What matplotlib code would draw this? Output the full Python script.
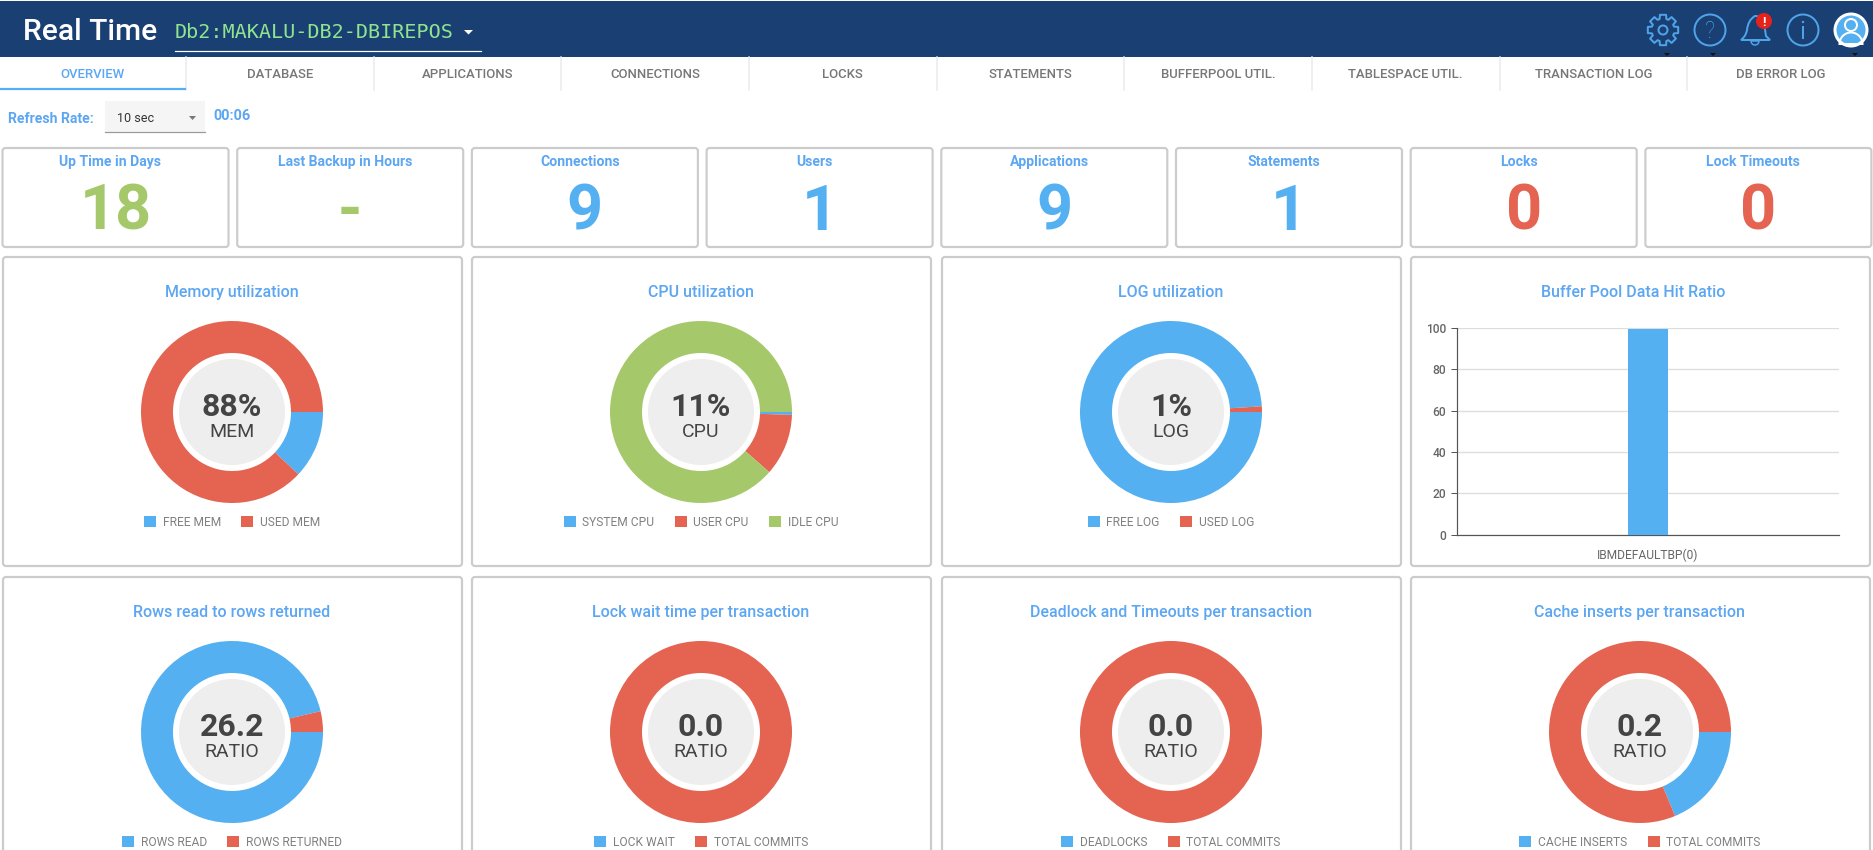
import numpy as np
import matplotlib
matplotlib.use('Agg')
import matplotlib.pyplot as plt
from matplotlib.patches import Circle, FancyBboxPatch, Polygon, Rectangle, Wedge, PathPatch
from matplotlib.path import Path

W, H = 1873, 850
plt.rcParams['font.family'] = ['Roboto', 'DejaVu Sans']

BLUE = "#54B0F0"
RED = "#E46351"
GREEN = "#A5C96A"
TITLE_BLUE = "#5CA6F2"
NAVY = "#193F73"
GREY_TEXT = "#777777"
DARK_TEXT = "#444444"
BORDER = "#CCCCCC"

header_title = "Real Time"
header_db = "Db2:MAKALU-DB2-DBIREPOS"
tabs = ["OVERVIEW", "DATABASE", "APPLICATIONS", "CONNECTIONS", "LOCKS", "STATEMENTS",
        "BUFFERPOOL UTIL.", "TABLESPACE UTIL.", "TRANSACTION LOG", "DB ERROR LOG"]

kpi_titles = ["Up Time in Days", "Last Backup in Hours", "Connections", "Users",
              "Applications", "Statements", "Locks", "Lock Timeouts"]
kpi_values = ["18", "-", "9", "1", "9", "1", "0", "0"]
kpi_colors = [GREEN, GREEN, BLUE, BLUE, BLUE, BLUE, RED, RED]

donut_titles = ["Memory utilization", "CPU utilization", "LOG utilization", None,
                "Rows read to rows returned", "Lock wait time per transaction",
                "Deadlock and Timeouts per transaction", "Cache inserts per transaction"]
memory_values = [12, 88]
cpu_values = [0.5, 11, 88.5]
log_values = [99, 1]
rows_values = [26.2, 1]
lock_wait_values = [0, 1]
deadlock_values = [0, 1]
cache_values = [0.23, 1]

memory_labels = ["FREE MEM", "USED MEM"]
cpu_labels = ["SYSTEM CPU", "USER CPU", "IDLE CPU"]
log_labels = ["FREE LOG", "USED LOG"]
rows_labels = ["ROWS READ", "ROWS RETURNED"]
lock_wait_labels = ["LOCK WAIT", "TOTAL COMMITS"]
deadlock_labels = ["DEADLOCKS", "TOTAL COMMITS"]
cache_labels = ["CACHE INSERTS", "TOTAL COMMITS"]

bp_categories = ["IBMDEFAULTBP(0)"]
bp_values = [99.6]
bp_ticks = [0, 20, 40, 60, 80, 100]


def px(size):
    # css pixels to points at dpi 100
    return size * 0.72


fig = plt.figure(figsize=(W / 100, H / 100), dpi=100, facecolor="white")
bg = fig.add_axes([0, 0, 1, 1])
bg.set_xlim(0, W)
bg.set_ylim(H, 0)
bg.axis("off")


def card(x0, y0, x1, y1):
    bg.add_patch(FancyBboxPatch((x0, y0), x1 - x0, y1 - y0,
                                boxstyle="round,pad=0,rounding_size=3",
                                fc="white", ec=BORDER, lw=px(2.2)))


def sub_axes(x0, y0, x1, y1):
    return fig.add_axes([x0 / W, 1 - y1 / H, (x1 - x0) / W, (y1 - y0) / H])


# header
bg.add_patch(Rectangle((0, 1), W, 56, fc=NAVY, ec="none"))
bg.text(23, 40, header_title, color="white", fontsize=px(30), weight="medium", va="baseline")
bg.text(175, 38, header_db, color="#8FE58F", fontsize=px(20.2), family="DejaVu Sans Mono", va="baseline")
bg.add_patch(Polygon([[464, 30], [473, 30], [468.5, 34.5]], fc="white", ec="none"))
bg.plot([175, 481], [51, 51], color="white", lw=px(1.2))

icon = "#4FA3E8"
ilw = px(2)
# gear
ang = np.linspace(0, 2 * np.pi, 8, endpoint=False)
gear = []
for a in ang:
    for da, r in [(-0.30, 11.5), (-0.20, 15.5), (0.20, 15.5), (0.30, 11.5)]:
        gear.append([1663 + r * np.cos(a + da), 30 + r * np.sin(a + da)])
bg.add_patch(Polygon(gear, closed=True, fc="none", ec=icon, lw=ilw, joinstyle="round"))
bg.add_patch(Circle((1663, 30), 4.5, fc="none", ec=icon, lw=ilw))
# help
bg.add_patch(Circle((1710, 30), 15.5, fc="none", ec=icon, lw=ilw))
bg.text(1710, 38, "?", color=icon, fontsize=px(23), ha="center", va="baseline", weight="light")
# bell
bell = Path([(1741, 40), (1746, 36), (1747, 30), (1748, 20), (1755, 16), (1762, 16), (1764, 22), (1765, 30),
             (1766, 36), (1770, 40), (1741, 40)],
            [Path.MOVETO, Path.CURVE3, Path.CURVE3, Path.CURVE3, Path.CURVE3, Path.CURVE3, Path.CURVE3,
             Path.CURVE3, Path.CURVE3, Path.LINETO, Path.CLOSEPOLY])
bg.add_patch(PathPatch(bell, fc="none", ec=icon, lw=ilw))
bg.add_patch(Wedge((1755, 41), 4, 0, 180, fc="none", ec=icon, lw=px(1.5)))
bg.add_patch(Circle((1764, 21), 8, fc="#E5231B", ec="none"))
bg.text(1764, 26, "!", color="white", fontsize=px(13), weight="bold", ha="center", va="baseline")
# info
bg.add_patch(Circle((1803, 30), 15.5, fc="none", ec=icon, lw=ilw))
bg.plot([1803, 1803], [27, 38], color=icon, lw=ilw)
bg.add_patch(Circle((1803, 22), 1.2, fc=icon, ec="none"))
# user
bg.add_patch(Circle((1851, 30), 16, fc=BLUE, ec="white", lw=px(3)))
bg.add_patch(Circle((1851, 25), 6, fc="none", ec="white", lw=px(2)))
bg.add_patch(Wedge((1851, 44), 11.5, 180, 360, fc="none", ec="white", lw=px(2)))
for x in [1667, 1713, 1855]:
    bg.add_patch(Polygon([[x - 3, 53], [x + 3, 53], [x, 56]], fc="#111111", ec="none"))

# tabs
tab_step = 187.67
for i, name in enumerate(tabs):
    color = TITLE_BLUE if i == 0 else GREY_TEXT
    bg.text(92 + tab_step * i, 77.5, name, color=color, fontsize=px(13.1), weight="medium",
            ha="center", va="baseline")
    if i < len(tabs) - 1:
        sx = 186 + tab_step * i
        bg.plot([sx, sx], [57, 90], color="#EBEBEB", lw=px(1.5))
bg.plot([0, 185], [89, 89], color=BLUE, lw=px(2.2))

# refresh row
bg.text(8, 122.5, "Refresh Rate:", color=TITLE_BLUE, fontsize=px(14), weight="bold", va="baseline")
bg.add_patch(Rectangle((105, 101), 100, 31, fc="#F5F5F5", ec="none"))
bg.plot([105, 205], [132, 132], color="#999999", lw=px(1.2))
bg.text(117, 121.5, "10 sec", color="#333333", fontsize=px(12.5), va="baseline")
bg.add_patch(Polygon([[189, 116], [196, 116], [192.5, 120]], fc="#777777", ec="none"))
bg.text(213, 120, "00:06", color=TITLE_BLUE, fontsize=px(14.5), weight="bold", va="baseline")

# kpi cards
kpi_w = 226
kpi_step = 234.7
for i, (t, v, c) in enumerate(zip(kpi_titles, kpi_values, kpi_colors)):
    x0 = 2.5 + kpi_step * i
    card(x0, 148, x0 + kpi_w, 247)
    cx = x0 + kpi_w / 2
    bg.text(cx - 5, 166, t, color=TITLE_BLUE, fontsize=px(14), weight="bold", ha="center", va="baseline")
    bg.text(cx, 229.5, v, color=c, fontsize=px(63), weight="bold", ha="center", va="baseline")

# chart cards
col_x = [(3, 462), (472, 931), (942, 1401), (1411, 1870)]
row_y = [(257, 566), (577, 900)]
for y0, y1 in row_y:
    for x0, x1 in col_x:
        card(x0, y0, x1, y1)


def donut(cx, cy, title, values, labels, colors, big, small):
    r = 91
    bg.text(cx, cy - 115, title, color=TITLE_BLUE, fontsize=px(16), weight="medium",
            ha="center", va="baseline")
    ax = sub_axes(cx - r, cy - r, cx + r, cy + r)
    ax.set_zorder(2)
    wedges, _ = ax.pie(values, colors=colors, startangle=0, counterclock=False, radius=1,
                       wedgeprops={"width": 32 / 91, "linewidth": 0})
    ax.set_xlim(-1, 1)
    ax.set_ylim(-1, 1)
    ax.add_patch(Circle((0, 0), 53 / 91, fc="#EEEEEE", ec="none"))
    ax.text(0, -4 / 91, big, color=DARK_TEXT, fontsize=px(32), weight="bold", ha="center", va="baseline")
    ax.text(0, -25 / 91, small, color=DARK_TEXT, fontsize=px(19.5), ha="center", va="baseline")
    leg = ax.legend(wedges, labels, ncol=len(labels), loc="center", frameon=False,
                    bbox_to_anchor=(cx, cy + 110), bbox_transform=bg.transData,
                    fontsize=px(12), labelcolor="#808080", handlelength=1.0, handleheight=1.0,
                    handletextpad=0.55, columnspacing=1.7, borderpad=0)
    leg.set_clip_on(False)


cx_cols = [232, 701, 1171, 1640]
pal2 = [BLUE, RED]
donut(cx_cols[0], 412, donut_titles[0], memory_values, memory_labels, pal2, "88%", "MEM")
donut(cx_cols[1], 412, donut_titles[1], cpu_values, cpu_labels, [BLUE, RED, GREEN], "11%", "CPU")
donut(cx_cols[2], 412, donut_titles[2], log_values, log_labels, pal2, "1%", "LOG")
donut(cx_cols[0], 732, donut_titles[4], rows_values, rows_labels, pal2, "26.2", "RATIO")
donut(cx_cols[1], 732, donut_titles[5], lock_wait_values, lock_wait_labels, pal2, "0.0", "RATIO")
donut(cx_cols[2], 732, donut_titles[6], deadlock_values, deadlock_labels, pal2, "0.0", "RATIO")
donut(cx_cols[3], 732, donut_titles[7], cache_values, cache_labels, pal2, "0.2", "RATIO")

# buffer pool bar chart
bg.text(1633.5, 297, "Buffer Pool Data Hit Ratio", color=TITLE_BLUE, fontsize=px(16), weight="medium",
        ha="center", va="baseline")
ax = sub_axes(1457, 328, 1839, 534.5)
ax.set_zorder(2)
ax.patch.set_alpha(0)
ax.bar(range(len(bp_values)), bp_values, width=0.105, color=BLUE, zorder=3)
ax.set_xlim(-0.5, 0.5)
ax.set_ylim(0, 100)
ax.set_yticks(bp_ticks)
ax.set_xticks(range(len(bp_categories)))
ax.set_xticklabels(bp_categories)
ax.yaxis.grid(True, color="#DDDDDD", lw=px(1.3), zorder=0)
ax.set_axisbelow(True)
ax.tick_params(axis="y", length=px(6), width=px(1), color="#555555", labelsize=px(12),
               labelcolor="#666666", pad=px(5))
ax.tick_params(axis="x", length=0, labelsize=px(12), labelcolor="#666666", pad=px(14))
for lab in ax.get_yticklabels():
    lab.set_fontweight("medium")
for s in ["top", "right"]:
    ax.spines[s].set_visible(False)
for s in ["left", "bottom"]:
    ax.spines[s].set_color("#555555")
    ax.spines[s].set_linewidth(px(1.2))

fig.savefig("out.png", dpi=100)
plt.close()
